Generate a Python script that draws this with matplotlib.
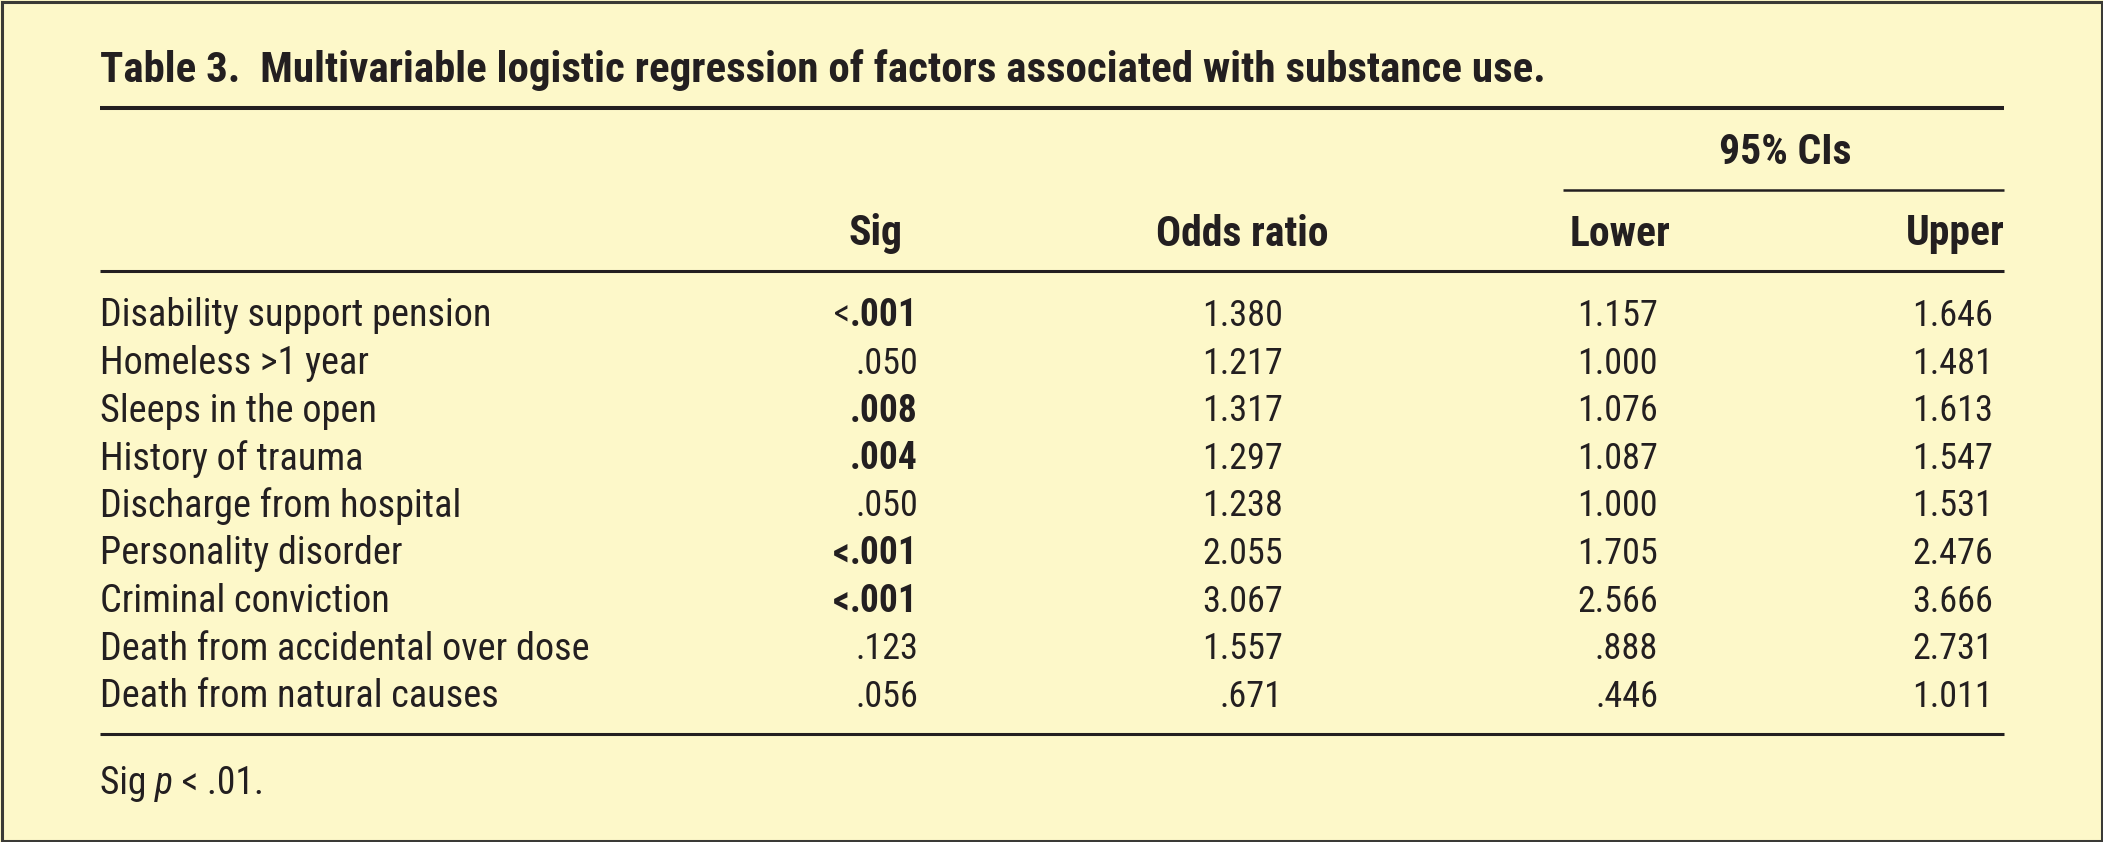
import matplotlib
matplotlib.use('Agg')
import matplotlib.pyplot as plt
from matplotlib import font_manager
from matplotlib.patches import Rectangle

# --- table content ---
title = "Table 3.  Multivariable logistic regression of factors associated with substance use."
factors = ["Disability support pension", "Homeless >1 year", "Sleeps in the open",
           "History of trauma", "Discharge from hospital", "Personality disorder",
           "Criminal conviction", "Death from accidental over dose", "Death from natural causes"]
sig_prefix = ["<", "", "", "", "", "<", "<", "", ""]
sig_num = [".001", ".050", ".008", ".004", ".050", ".001", ".001", ".123", ".056"]
sig_bold = [True, False, True, True, False, True, True, False, False]
prefix_bold = [False, False, False, False, False, True, True, False, False]
odds = ["1.380", "1.217", "1.317", "1.297", "1.238", "2.055", "3.067", "1.557", ".671"]
lower = ["1.157", "1.000", "1.076", "1.087", "1.000", "1.705", "2.566", ".888", ".446"]
upper = ["1.646", "1.481", "1.613", "1.547", "1.531", "2.476", "3.666", "2.731", "1.011"]
headers = ["Sig", "Odds ratio", "Lower", "Upper"]
group_header = "95% CIs"

# pick a narrow font if there is one
names = {f.name for f in font_manager.fontManager.ttflist}
fam = 'DejaVu Sans'
for cand in ['Roboto Condensed', 'Liberation Sans Narrow', 'Liberation Sans']:
    if cand in names:
        fam = cand
        break

BG = '#fdf8c9'
INK = '#231f20'
W, H = 2103, 842

fig = plt.figure(figsize=(W / 100, H / 100), dpi=100, facecolor=BG)
ax = fig.add_axes([0, 0, 1, 1])
ax.set_xlim(0, W)
ax.set_ylim(H, 0)
ax.axis('off')
ax.add_patch(Rectangle((1.5, 1.5), W - 3, H - 3, fill=False, ec='#3a3a36', lw=2.2))

renderer = fig.canvas.get_renderer()
body = 26


def txt(x, y, s, **kw):
    kw.setdefault('fontsize', body)
    kw.setdefault('color', INK)
    kw.setdefault('family', fam)
    return ax.text(x, y, s, va='center', **kw)


def width(t):
    bb = t.get_window_extent(renderer)
    return bb.width


# title + rules
txt(100, 70, title, fontweight='bold', fontsize=31)
ax.plot([100, 2004], [108, 108], color=INK, lw=2.9, solid_capstyle='butt')
ax.plot([1563, 2004], [190, 190], color=INK, lw=1.8, solid_capstyle='butt')
ax.plot([100, 2004], [271, 271], color=INK, lw=2.2, solid_capstyle='butt')
ax.plot([100, 2004], [734, 734], color=INK, lw=2.2, solid_capstyle='butt')

txt(1785, 153, group_header, fontweight='bold', ha='center', fontsize=30)
head_right = [903, 1328, 1670, 2005]
for h, xr in zip(headers, head_right):
    txt(xr, 234, h, fontweight='bold', ha='right', fontsize=30)

# rows
row_y0, row_dy = 316, 47.6
for i, name in enumerate(factors):
    y = row_y0 + i * row_dy
    txt(100, y, name, fontsize=27.5)
    t = txt(918, y, sig_num[i], ha='right',
            fontweight='bold' if sig_bold[i] else 'normal',
            fontsize=27 if sig_bold[i] else body)
    if sig_prefix[i]:
        w = width(t)
        txt(918 - w, y, sig_prefix[i], ha='right',
            fontweight='bold' if prefix_bold[i] else 'normal',
            fontsize=27 if prefix_bold[i] else body)
    txt(1283, y, odds[i], ha='right')
    txt(1658, y, lower[i], ha='right')
    txt(1993, y, upper[i], ha='right')

# footnote: Sig p < .01.
x = 100
for s, style in [("Sig ", 'normal'), ("p", 'italic'), (" < .01.", 'normal')]:
    t = txt(x, 783, s, fontstyle=style, fontsize=27)
    x += width(t)

fig.savefig('out.png', dpi=100, facecolor=BG)
